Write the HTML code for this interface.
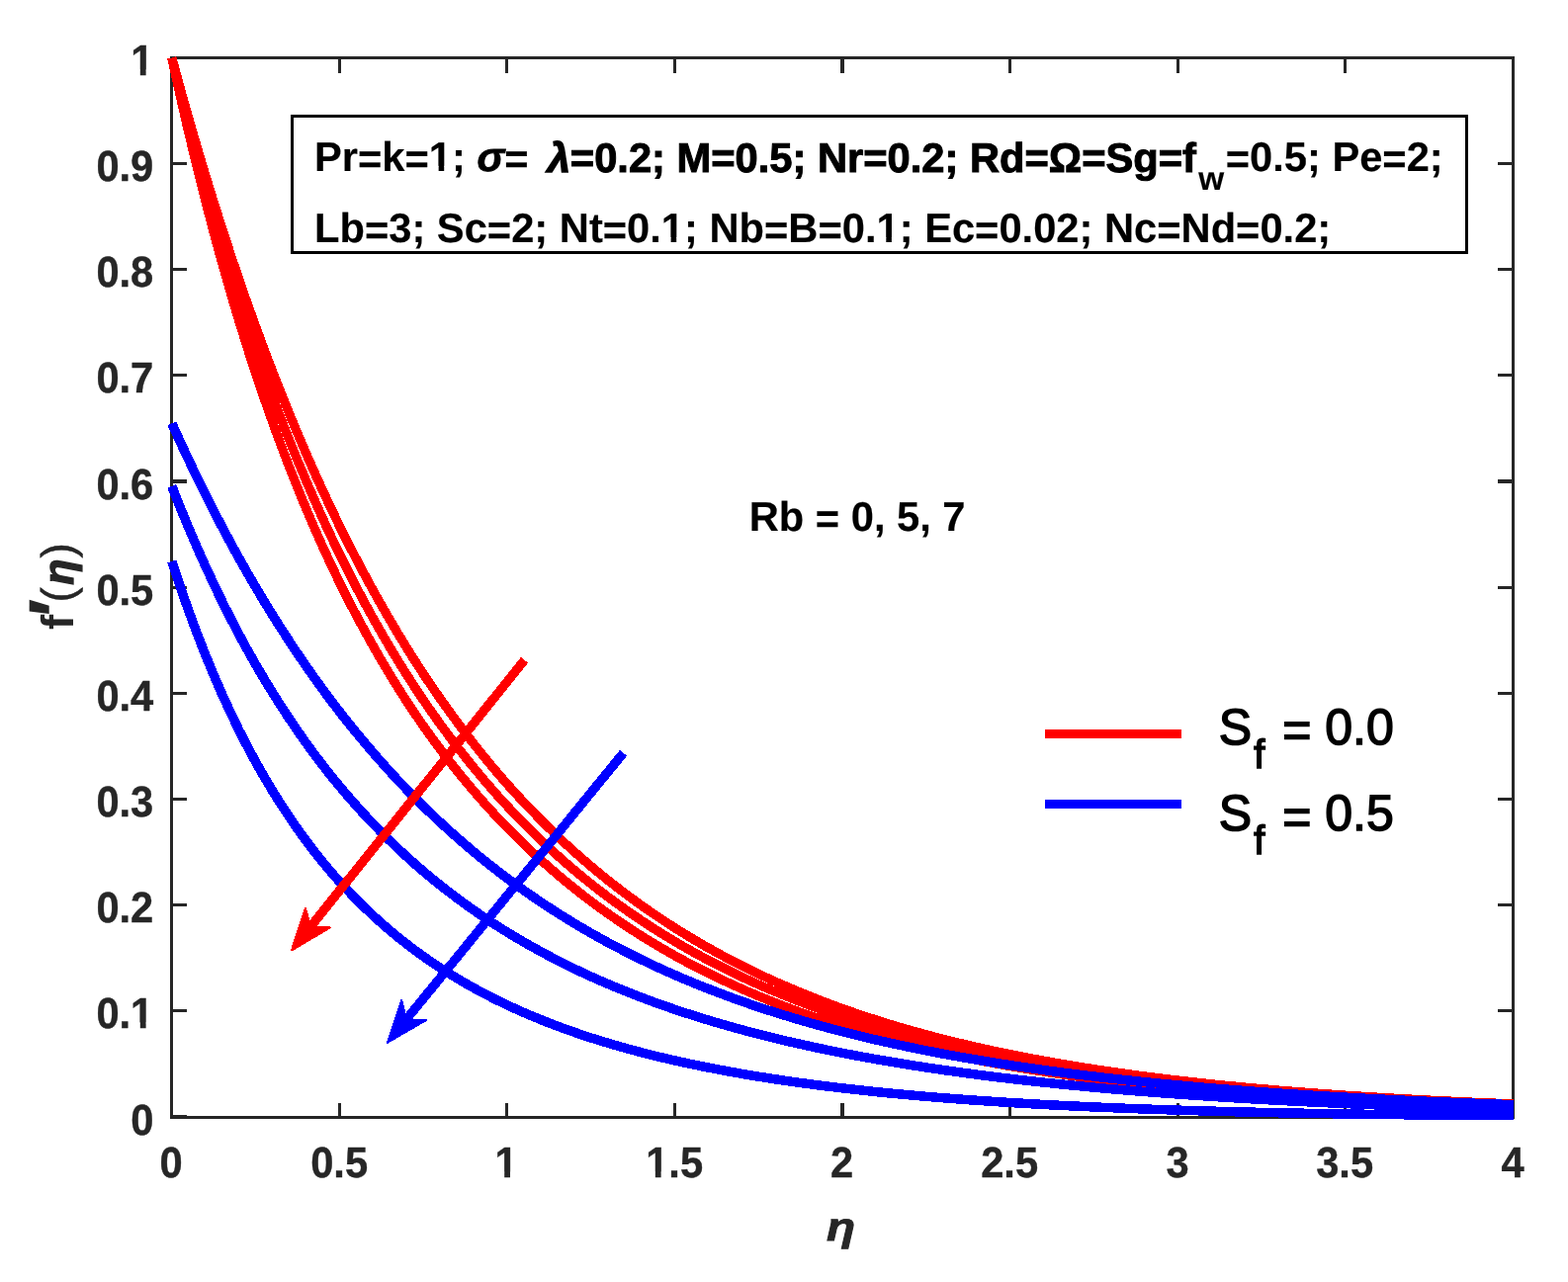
<!DOCTYPE html>
<html lang="en"><head><meta charset="utf-8"><title>f'(eta) profile</title>
<style>
html,body{margin:0;padding:0;background:#fff;}
body{width:1586px;height:1297px;overflow:hidden;position:relative;}
svg{position:absolute;left:0;top:0;display:block;}
text{font-family:"Liberation Sans",sans-serif;text-rendering:geometricPrecision;}
.tk{font-weight:bold;font-size:41.67px;fill:#262626;}
.an{font-weight:bold;font-size:41.67px;fill:#000;}
.lg{font-size:50px;fill:#000;}
.lb{font-weight:bold;font-size:45.83px;fill:#262626;}
.gi{font-style:italic;}
</style></head><body>
<svg width="1586" height="1297" viewBox="0 0 1586 1297">
<rect x="0" y="0" width="1586" height="1297" fill="#ffffff"/>

<g fill="#262626" shape-rendering="crispEdges">
<rect x="172" y="57" width="1360" height="3"/><rect x="172" y="1129" width="1360" height="3"/><rect x="172" y="57" width="3" height="1075"/><rect x="1529" y="57" width="3" height="1075"/>
<rect x="342" y="60" width="3" height="14"/><rect x="342" y="1116" width="3" height="13"/>
<rect x="511" y="60" width="3" height="14"/><rect x="511" y="1116" width="3" height="13"/>
<rect x="681" y="60" width="3" height="14"/><rect x="681" y="1116" width="3" height="13"/>
<rect x="850" y="60" width="4" height="14"/><rect x="850" y="1116" width="4" height="13"/>
<rect x="1020" y="60" width="3" height="14"/><rect x="1020" y="1116" width="3" height="13"/>
<rect x="1190" y="60" width="3" height="14"/><rect x="1190" y="1116" width="3" height="13"/>
<rect x="1359" y="60" width="3" height="14"/><rect x="1359" y="1116" width="3" height="13"/>
<rect x="175" y="1021" width="14" height="3"/><rect x="1515" y="1021" width="14" height="3"/>
<rect x="175" y="914" width="14" height="3"/><rect x="1515" y="914" width="14" height="3"/>
<rect x="175" y="807" width="14" height="3"/><rect x="1515" y="807" width="14" height="3"/>
<rect x="175" y="700" width="14" height="3"/><rect x="1515" y="700" width="14" height="3"/>
<rect x="175" y="593" width="14" height="3"/><rect x="1515" y="593" width="14" height="3"/>
<rect x="175" y="485" width="14" height="4"/><rect x="1515" y="485" width="14" height="4"/>
<rect x="175" y="378" width="14" height="3"/><rect x="1515" y="378" width="14" height="3"/>
<rect x="175" y="271" width="14" height="3"/><rect x="1515" y="271" width="14" height="3"/>
<rect x="175" y="164" width="14" height="3"/><rect x="1515" y="164" width="14" height="3"/>
<rect x="175" y="1128" width="14" height="1"/><rect x="1515" y="1128" width="14" height="1"/>
</g>
<g class="tk ft" stroke="#262626" stroke-width="0.4">
<text transform="translate(173.10,1191.00) scale(1,1.046)" text-anchor="middle">0</text>
<text transform="translate(343.10,1191.00) scale(1,1.046)" text-anchor="middle">0.5</text>
<text transform="translate(512.10,1191.00) scale(1,1.046)" text-anchor="middle">1</text>
<text transform="translate(682.10,1191.00) scale(1,1.046)" text-anchor="middle">1.5</text>
<text transform="translate(851.60,1191.00) scale(1,1.046)" text-anchor="middle">2</text>
<text transform="translate(1021.10,1191.00) scale(1,1.046)" text-anchor="middle">2.5</text>
<text transform="translate(1191.10,1191.00) scale(1,1.046)" text-anchor="middle">3</text>
<text transform="translate(1360.10,1191.00) scale(1,1.046)" text-anchor="middle">3.5</text>
<text transform="translate(1530.10,1191.00) scale(1,1.046)" text-anchor="middle">4</text>
<text transform="translate(155.30,1148.00) scale(1,1.046)" text-anchor="end">0</text>
<text transform="translate(155.30,1040.00) scale(1,1.046)" text-anchor="end">0.1</text>
<text transform="translate(155.30,933.00) scale(1,1.046)" text-anchor="end">0.2</text>
<text transform="translate(155.30,826.00) scale(1,1.046)" text-anchor="end">0.3</text>
<text transform="translate(155.30,719.00) scale(1,1.046)" text-anchor="end">0.4</text>
<text transform="translate(155.30,612.00) scale(1,1.046)" text-anchor="end">0.5</text>
<text transform="translate(155.30,504.50) scale(1,1.046)" text-anchor="end">0.6</text>
<text transform="translate(155.30,397.00) scale(1,1.046)" text-anchor="end">0.7</text>
<text transform="translate(155.30,290.00) scale(1,1.046)" text-anchor="end">0.8</text>
<text transform="translate(155.30,183.00) scale(1,1.046)" text-anchor="end">0.9</text>
<text transform="translate(155.30,76.00) scale(1,1.046)" text-anchor="end">1</text>
</g>
<g fill="none" stroke-linejoin="round" stroke-linecap="butt" shape-rendering="crispEdges">
<path stroke="#ff0000" stroke-width="9.3" d="M173.80,58.50 L182.28,89.53 L190.76,119.64 L199.24,148.86 L207.72,177.20 L216.20,204.70 L224.68,231.39 L233.16,257.29 L241.64,282.41 L250.12,306.80 L258.60,330.46 L267.08,353.43 L275.56,375.72 L284.04,397.35 L292.52,418.34 L301.00,438.72 L309.48,458.50 L317.96,477.69 L326.44,496.33 L334.92,514.42 L343.40,531.97 L351.88,549.02 L360.36,565.56 L368.84,581.62 L377.32,597.22 L385.80,612.36 L394.28,627.05 L402.76,641.32 L411.24,655.18 L419.72,668.63 L428.20,681.69 L436.68,694.37 L445.16,706.69 L453.64,718.64 L462.12,730.25 L470.60,741.53 L479.08,752.48 L487.56,763.11 L496.04,773.44 L504.52,783.46 L513.00,793.20 L521.48,802.66 L529.96,811.85 L538.44,820.77 L546.92,829.43 L555.40,837.85 L563.88,846.03 L572.36,853.97 L580.84,861.68 L589.32,869.17 L597.80,876.45 L606.28,883.52 L614.76,890.39 L623.24,897.06 L631.72,903.54 L640.20,909.83 L648.68,915.95 L657.16,921.89 L665.64,927.66 L674.12,933.27 L682.60,938.72 L691.08,944.02 L699.56,949.16 L708.04,954.16 L716.52,959.02 L725.00,963.74 L733.48,968.32 L741.96,972.78 L750.44,977.10 L758.92,981.31 L767.40,985.40 L775.88,989.37 L784.36,993.23 L792.84,996.98 L801.32,1000.63 L809.80,1004.17 L818.28,1007.62 L826.76,1010.96 L835.24,1014.22 L843.72,1017.38 L852.20,1020.45 L860.68,1023.44 L869.16,1026.34 L877.64,1029.16 L886.12,1031.90 L894.60,1034.57 L903.08,1037.16 L911.56,1039.68 L920.04,1042.12 L928.52,1044.50 L937.00,1046.82 L945.48,1049.07 L953.96,1051.25 L962.44,1053.38 L970.92,1055.44 L979.40,1057.45 L987.88,1059.40 L996.36,1061.30 L1004.84,1063.15 L1013.32,1064.94 L1021.80,1066.69 L1030.28,1068.38 L1038.76,1070.03 L1047.24,1071.63 L1055.72,1073.19 L1064.20,1074.71 L1072.68,1076.18 L1081.16,1077.62 L1089.64,1079.01 L1098.12,1080.37 L1106.60,1081.68 L1115.08,1082.97 L1123.56,1084.21 L1132.04,1085.42 L1140.52,1086.60 L1149.00,1087.75 L1157.48,1088.86 L1165.96,1089.95 L1174.44,1091.00 L1182.92,1092.03 L1191.40,1093.02 L1199.88,1094.00 L1208.36,1094.94 L1216.84,1095.86 L1225.32,1096.75 L1233.80,1097.62 L1242.28,1098.46 L1250.76,1099.28 L1259.24,1100.08 L1267.72,1100.86 L1276.20,1101.62 L1284.68,1102.35 L1293.16,1103.07 L1301.64,1103.76 L1310.12,1104.44 L1318.60,1105.10 L1327.08,1105.74 L1335.56,1106.37 L1344.04,1106.97 L1352.52,1107.56 L1361.00,1108.14 L1369.48,1108.70 L1377.96,1109.24 L1386.44,1109.77 L1394.92,1110.29 L1403.40,1110.79 L1411.88,1111.27 L1420.36,1111.75 L1428.84,1112.21 L1437.32,1112.66 L1445.80,1113.10 L1454.28,1113.52 L1462.76,1113.94 L1471.24,1114.34 L1479.72,1114.73 L1488.20,1115.12 L1496.68,1115.49 L1505.16,1115.85 L1513.64,1116.20 L1522.12,1116.55 L1530.60,1116.88"/>
<path stroke="#ff0000" stroke-width="9.3" d="M173.80,58.50 L182.28,93.10 L190.76,126.44 L199.24,158.57 L207.72,189.53 L216.20,219.38 L224.68,248.16 L233.16,275.92 L241.64,302.70 L250.12,328.54 L258.60,353.47 L267.08,377.54 L275.56,400.78 L284.04,423.21 L292.52,444.88 L301.00,465.82 L309.48,486.04 L317.96,505.58 L326.44,524.47 L334.92,542.73 L343.40,560.39 L351.88,577.46 L360.36,593.97 L368.84,609.94 L377.32,625.39 L385.80,640.34 L394.28,654.81 L402.76,668.81 L411.24,682.37 L419.72,695.50 L428.20,708.21 L436.68,720.51 L445.16,732.44 L453.64,743.99 L462.12,755.18 L470.60,766.02 L479.08,776.53 L487.56,786.71 L496.04,796.58 L504.52,806.15 L513.00,815.43 L521.48,824.43 L529.96,833.15 L538.44,841.61 L546.92,849.82 L555.40,857.78 L563.88,865.50 L572.36,873.00 L580.84,880.27 L589.32,887.32 L597.80,894.17 L606.28,900.81 L614.76,907.26 L623.24,913.52 L631.72,919.60 L640.20,925.50 L648.68,931.23 L657.16,936.80 L665.64,942.20 L674.12,947.45 L682.60,952.54 L691.08,957.49 L699.56,962.29 L708.04,966.96 L716.52,971.50 L725.00,975.90 L733.48,980.18 L741.96,984.34 L750.44,988.38 L758.92,992.30 L767.40,996.12 L775.88,999.82 L784.36,1003.42 L792.84,1006.92 L801.32,1010.32 L809.80,1013.63 L818.28,1016.84 L826.76,1019.96 L835.24,1022.99 L843.72,1025.94 L852.20,1028.81 L860.68,1031.59 L869.16,1034.30 L877.64,1036.93 L886.12,1039.49 L894.60,1041.97 L903.08,1044.39 L911.56,1046.74 L920.04,1049.02 L928.52,1051.24 L937.00,1053.40 L945.48,1055.50 L953.96,1057.54 L962.44,1059.52 L970.92,1061.44 L979.40,1063.32 L987.88,1065.14 L996.36,1066.91 L1004.84,1068.63 L1013.32,1070.30 L1021.80,1071.92 L1030.28,1073.50 L1038.76,1075.04 L1047.24,1076.53 L1055.72,1077.99 L1064.20,1079.40 L1072.68,1080.77 L1081.16,1082.10 L1089.64,1083.40 L1098.12,1084.66 L1106.60,1085.88 L1115.08,1087.07 L1123.56,1088.23 L1132.04,1089.35 L1140.52,1090.45 L1149.00,1091.51 L1157.48,1092.54 L1165.96,1093.54 L1174.44,1094.52 L1182.92,1095.47 L1191.40,1096.39 L1199.88,1097.28 L1208.36,1098.15 L1216.84,1099.00 L1225.32,1099.82 L1233.80,1100.62 L1242.28,1101.40 L1250.76,1102.15 L1259.24,1102.88 L1267.72,1103.60 L1276.20,1104.29 L1284.68,1104.96 L1293.16,1105.62 L1301.64,1106.25 L1310.12,1106.87 L1318.60,1107.47 L1327.08,1108.05 L1335.56,1108.62 L1344.04,1109.17 L1352.52,1109.70 L1361.00,1110.22 L1369.48,1110.73 L1377.96,1111.22 L1386.44,1111.69 L1394.92,1112.15 L1403.40,1112.60 L1411.88,1113.04 L1420.36,1113.47 L1428.84,1113.88 L1437.32,1114.28 L1445.80,1114.67 L1454.28,1115.04 L1462.76,1115.41 L1471.24,1115.77 L1479.72,1116.11 L1488.20,1116.45 L1496.68,1116.78 L1505.16,1117.09 L1513.64,1117.40 L1522.12,1117.70 L1530.60,1117.99"/>
<path stroke="#ff0000" stroke-width="9.3" d="M173.80,58.50 L182.28,97.04 L190.76,133.89 L199.24,169.14 L207.72,202.88 L216.20,235.19 L224.68,266.13 L233.16,295.78 L241.64,324.21 L250.12,351.47 L258.60,377.63 L267.08,402.73 L275.56,426.84 L284.04,450.00 L292.52,472.26 L301.00,493.65 L309.48,514.23 L317.96,534.02 L326.44,553.07 L334.92,571.41 L343.40,589.06 L351.88,606.08 L360.36,622.47 L368.84,638.27 L377.32,653.51 L385.80,668.21 L394.28,682.39 L402.76,696.08 L411.24,709.29 L419.72,722.05 L428.20,734.38 L436.68,746.29 L445.16,757.79 L453.64,768.92 L462.12,779.68 L470.60,790.08 L479.08,800.15 L487.56,809.89 L496.04,819.32 L504.52,828.44 L513.00,837.28 L521.48,845.83 L529.96,854.12 L538.44,862.15 L546.92,869.93 L555.40,877.47 L563.88,884.78 L572.36,891.87 L580.84,898.74 L589.32,905.40 L597.80,911.86 L606.28,918.13 L614.76,924.21 L623.24,930.11 L631.72,935.84 L640.20,941.39 L648.68,946.79 L657.16,952.02 L665.64,957.10 L674.12,962.04 L682.60,966.83 L691.08,971.48 L699.56,976.00 L708.04,980.38 L716.52,984.65 L725.00,988.78 L733.48,992.81 L741.96,996.71 L750.44,1000.50 L758.92,1004.19 L767.40,1007.77 L775.88,1011.25 L784.36,1014.63 L792.84,1017.91 L801.32,1021.10 L809.80,1024.20 L818.28,1027.21 L826.76,1030.14 L835.24,1032.98 L843.72,1035.74 L852.20,1038.43 L860.68,1041.03 L869.16,1043.57 L877.64,1046.03 L886.12,1048.42 L894.60,1050.74 L903.08,1053.00 L911.56,1055.19 L920.04,1057.32 L928.52,1059.39 L937.00,1061.40 L945.48,1063.35 L953.96,1065.25 L962.44,1067.09 L970.92,1068.88 L979.40,1070.61 L987.88,1072.30 L996.36,1073.94 L1004.84,1075.53 L1013.32,1077.07 L1021.80,1078.57 L1030.28,1080.02 L1038.76,1081.44 L1047.24,1082.81 L1055.72,1084.14 L1064.20,1085.43 L1072.68,1086.69 L1081.16,1087.90 L1089.64,1089.08 L1098.12,1090.23 L1106.60,1091.34 L1115.08,1092.42 L1123.56,1093.47 L1132.04,1094.48 L1140.52,1095.47 L1149.00,1096.42 L1157.48,1097.35 L1165.96,1098.24 L1174.44,1099.12 L1182.92,1099.96 L1191.40,1100.78 L1199.88,1101.57 L1208.36,1102.34 L1216.84,1103.09 L1225.32,1103.81 L1233.80,1104.51 L1242.28,1105.19 L1250.76,1105.85 L1259.24,1106.48 L1267.72,1107.10 L1276.20,1107.70 L1284.68,1108.28 L1293.16,1108.84 L1301.64,1109.38 L1310.12,1109.91 L1318.60,1110.42 L1327.08,1110.91 L1335.56,1111.39 L1344.04,1111.85 L1352.52,1112.30 L1361.00,1112.73 L1369.48,1113.15 L1377.96,1113.56 L1386.44,1113.95 L1394.92,1114.33 L1403.40,1114.69 L1411.88,1115.05 L1420.36,1115.39 L1428.84,1115.72 L1437.32,1116.04 L1445.80,1116.35 L1454.28,1116.65 L1462.76,1116.93 L1471.24,1117.21 L1479.72,1117.48 L1488.20,1117.74 L1496.68,1117.99 L1505.16,1118.23 L1513.64,1118.46 L1522.12,1118.69 L1530.60,1118.90"/>
<path stroke="#0000ff" stroke-width="9.5" d="M173.80,428.38 L182.28,447.07 L190.76,465.26 L199.24,482.95 L207.72,500.16 L216.20,516.90 L224.68,533.20 L233.16,549.05 L241.64,564.46 L250.12,579.47 L258.60,594.06 L267.08,608.26 L275.56,622.08 L284.04,635.52 L292.52,648.60 L301.00,661.32 L309.48,673.70 L317.96,685.74 L326.44,697.46 L334.92,708.86 L343.40,719.95 L351.88,730.74 L360.36,741.24 L368.84,751.46 L377.32,761.40 L385.80,771.07 L394.28,780.48 L402.76,789.64 L411.24,798.55 L419.72,807.22 L428.20,815.66 L436.68,823.87 L445.16,831.86 L453.64,839.63 L462.12,847.20 L470.60,854.56 L479.08,861.72 L487.56,868.69 L496.04,875.48 L504.52,882.08 L513.00,888.50 L521.48,894.76 L529.96,900.84 L538.44,906.77 L546.92,912.53 L555.40,918.14 L563.88,923.60 L572.36,928.92 L580.84,934.09 L589.32,939.12 L597.80,944.02 L606.28,948.80 L614.76,953.44 L623.24,957.96 L631.72,962.36 L640.20,966.64 L648.68,970.81 L657.16,974.87 L665.64,978.83 L674.12,982.67 L682.60,986.42 L691.08,990.07 L699.56,993.62 L708.04,997.08 L716.52,1000.44 L725.00,1003.72 L733.48,1006.91 L741.96,1010.02 L750.44,1013.04 L758.92,1015.99 L767.40,1018.86 L775.88,1021.66 L784.36,1024.38 L792.84,1027.03 L801.32,1029.61 L809.80,1032.12 L818.28,1034.57 L826.76,1036.96 L835.24,1039.28 L843.72,1041.54 L852.20,1043.74 L860.68,1045.89 L869.16,1047.98 L877.64,1050.02 L886.12,1052.00 L894.60,1053.94 L903.08,1055.82 L911.56,1057.65 L920.04,1059.44 L928.52,1061.18 L937.00,1062.88 L945.48,1064.53 L953.96,1066.14 L962.44,1067.71 L970.92,1069.24 L979.40,1070.74 L987.88,1072.19 L996.36,1073.60 L1004.84,1074.98 L1013.32,1076.33 L1021.80,1077.64 L1030.28,1078.91 L1038.76,1080.16 L1047.24,1081.37 L1055.72,1082.56 L1064.20,1083.71 L1072.68,1084.83 L1081.16,1085.93 L1089.64,1087.00 L1098.12,1088.04 L1106.60,1089.05 L1115.08,1090.04 L1123.56,1091.01 L1132.04,1091.95 L1140.52,1092.86 L1149.00,1093.76 L1157.48,1094.63 L1165.96,1095.48 L1174.44,1096.31 L1182.92,1097.12 L1191.40,1097.90 L1199.88,1098.67 L1208.36,1099.42 L1216.84,1100.15 L1225.32,1100.87 L1233.80,1101.56 L1242.28,1102.24 L1250.76,1102.90 L1259.24,1103.55 L1267.72,1104.18 L1276.20,1104.79 L1284.68,1105.39 L1293.16,1105.98 L1301.64,1106.55 L1310.12,1107.10 L1318.60,1107.65 L1327.08,1108.18 L1335.56,1108.69 L1344.04,1109.20 L1352.52,1109.69 L1361.00,1110.17 L1369.48,1110.64 L1377.96,1111.10 L1386.44,1111.54 L1394.92,1111.98 L1403.40,1112.40 L1411.88,1112.82 L1420.36,1113.22 L1428.84,1113.62 L1437.32,1114.00 L1445.80,1114.38 L1454.28,1114.74 L1462.76,1115.10 L1471.24,1115.45 L1479.72,1115.79 L1488.20,1116.13 L1496.68,1116.45 L1505.16,1116.77 L1513.64,1117.08 L1522.12,1117.38 L1530.60,1117.68"/>
<path stroke="#0000ff" stroke-width="9.5" d="M173.80,491.92 L182.28,513.35 L190.76,533.93 L199.24,553.70 L207.72,572.69 L216.20,590.95 L224.68,608.50 L233.16,625.38 L241.64,641.62 L250.12,657.24 L258.60,672.27 L267.08,686.74 L275.56,700.67 L284.04,714.09 L292.52,727.02 L301.00,739.48 L309.48,751.49 L317.96,763.07 L326.44,774.23 L334.92,785.00 L343.40,795.38 L351.88,805.41 L360.36,815.08 L368.84,824.42 L377.32,833.44 L385.80,842.15 L394.28,850.57 L402.76,858.70 L411.24,866.56 L419.72,874.15 L428.20,881.50 L436.68,888.60 L445.16,895.48 L453.64,902.12 L462.12,908.56 L470.60,914.78 L479.08,920.81 L487.56,926.64 L496.04,932.30 L504.52,937.77 L513.00,943.07 L521.48,948.21 L529.96,953.19 L538.44,958.02 L546.92,962.70 L555.40,967.23 L563.88,971.63 L572.36,975.90 L580.84,980.04 L589.32,984.06 L597.80,987.96 L606.28,991.74 L614.76,995.41 L623.24,998.98 L631.72,1002.44 L640.20,1005.81 L648.68,1009.07 L657.16,1012.25 L665.64,1015.33 L674.12,1018.33 L682.60,1021.24 L691.08,1024.07 L699.56,1026.82 L708.04,1029.49 L716.52,1032.09 L725.00,1034.62 L733.48,1037.08 L741.96,1039.48 L750.44,1041.81 L758.92,1044.07 L767.40,1046.27 L775.88,1048.42 L784.36,1050.51 L792.84,1052.54 L801.32,1054.52 L809.80,1056.44 L818.28,1058.32 L826.76,1060.14 L835.24,1061.92 L843.72,1063.65 L852.20,1065.34 L860.68,1066.98 L869.16,1068.58 L877.64,1070.14 L886.12,1071.65 L894.60,1073.13 L903.08,1074.58 L911.56,1075.98 L920.04,1077.35 L928.52,1078.68 L937.00,1079.99 L945.48,1081.25 L953.96,1082.49 L962.44,1083.69 L970.92,1084.87 L979.40,1086.01 L987.88,1087.13 L996.36,1088.22 L1004.84,1089.28 L1013.32,1090.32 L1021.80,1091.32 L1030.28,1092.31 L1038.76,1093.27 L1047.24,1094.20 L1055.72,1095.12 L1064.20,1096.01 L1072.68,1096.88 L1081.16,1097.72 L1089.64,1098.55 L1098.12,1099.36 L1106.60,1100.14 L1115.08,1100.91 L1123.56,1101.66 L1132.04,1102.39 L1140.52,1103.10 L1149.00,1103.79 L1157.48,1104.47 L1165.96,1105.13 L1174.44,1105.77 L1182.92,1106.40 L1191.40,1107.01 L1199.88,1107.61 L1208.36,1108.20 L1216.84,1108.76 L1225.32,1109.32 L1233.80,1109.86 L1242.28,1110.39 L1250.76,1110.90 L1259.24,1111.41 L1267.72,1111.90 L1276.20,1112.37 L1284.68,1112.84 L1293.16,1113.29 L1301.64,1113.74 L1310.12,1114.17 L1318.60,1114.59 L1327.08,1115.00 L1335.56,1115.40 L1344.04,1115.79 L1352.52,1116.17 L1361.00,1116.54 L1369.48,1116.91 L1377.96,1117.26 L1386.44,1117.60 L1394.92,1117.94 L1403.40,1118.27 L1411.88,1118.59 L1420.36,1118.90 L1428.84,1119.20 L1437.32,1119.49 L1445.80,1119.78 L1454.28,1120.06 L1462.76,1120.34 L1471.24,1120.60 L1479.72,1120.86 L1488.20,1121.11 L1496.68,1121.36 L1505.16,1121.60 L1513.64,1121.83 L1522.12,1122.06 L1530.60,1122.28"/>
<path stroke="#0000ff" stroke-width="9.5" d="M173.80,568.00 L182.28,593.62 L190.76,617.84 L199.24,640.76 L207.72,662.45 L216.20,683.00 L224.68,702.47 L233.16,720.92 L241.64,738.43 L250.12,755.04 L258.60,770.82 L267.08,785.80 L275.56,800.04 L284.04,813.59 L292.52,826.47 L301.00,838.73 L309.48,850.40 L317.96,861.53 L326.44,872.13 L334.92,882.23 L343.40,891.87 L351.88,901.07 L360.36,909.86 L368.84,918.25 L377.32,926.26 L385.80,933.92 L394.28,941.25 L402.76,948.26 L411.24,954.97 L419.72,961.39 L428.20,967.54 L436.68,973.44 L445.16,979.08 L453.64,984.50 L462.12,989.70 L470.60,994.68 L479.08,999.47 L487.56,1004.06 L496.04,1008.47 L504.52,1012.71 L513.00,1016.78 L521.48,1020.70 L529.96,1024.47 L538.44,1028.09 L546.92,1031.58 L555.40,1034.93 L563.88,1038.17 L572.36,1041.28 L580.84,1044.27 L589.32,1047.16 L597.80,1049.95 L606.28,1052.63 L614.76,1055.22 L623.24,1057.72 L631.72,1060.13 L640.20,1062.45 L648.68,1064.69 L657.16,1066.86 L665.64,1068.95 L674.12,1070.97 L682.60,1072.92 L691.08,1074.81 L699.56,1076.63 L708.04,1078.39 L716.52,1080.09 L725.00,1081.73 L733.48,1083.33 L741.96,1084.86 L750.44,1086.35 L758.92,1087.79 L767.40,1089.18 L775.88,1090.53 L784.36,1091.84 L792.84,1093.10 L801.32,1094.32 L809.80,1095.50 L818.28,1096.65 L826.76,1097.76 L835.24,1098.83 L843.72,1099.87 L852.20,1100.87 L860.68,1101.85 L869.16,1102.79 L877.64,1103.70 L886.12,1104.59 L894.60,1105.45 L903.08,1106.28 L911.56,1107.08 L920.04,1107.86 L928.52,1108.61 L937.00,1109.34 L945.48,1110.05 L953.96,1110.74 L962.44,1111.40 L970.92,1112.04 L979.40,1112.67 L987.88,1113.27 L996.36,1113.85 L1004.84,1114.42 L1013.32,1114.97 L1021.80,1115.50 L1030.28,1116.01 L1038.76,1116.51 L1047.24,1116.99 L1055.72,1117.45 L1064.20,1117.90 L1072.68,1118.34 L1081.16,1118.76 L1089.64,1119.17 L1098.12,1119.57 L1106.60,1119.95 L1115.08,1120.32 L1123.56,1120.67 L1132.04,1121.02 L1140.52,1121.35 L1149.00,1121.68 L1157.48,1121.99 L1165.96,1122.29 L1174.44,1122.58 L1182.92,1122.87 L1191.40,1123.14 L1199.88,1123.40 L1208.36,1123.66 L1216.84,1123.90 L1225.32,1124.14 L1233.80,1124.37 L1242.28,1124.59 L1250.76,1124.80 L1259.24,1125.01 L1267.72,1125.20 L1276.20,1125.40 L1284.68,1125.58 L1293.16,1125.76 L1301.64,1125.93 L1310.12,1126.09 L1318.60,1126.25 L1327.08,1126.41 L1335.56,1126.56 L1344.04,1126.70 L1352.52,1126.83 L1361.00,1126.97 L1369.48,1127.09 L1377.96,1127.22 L1386.44,1127.33 L1394.92,1127.45 L1403.40,1127.55 L1411.88,1127.66 L1420.36,1127.76 L1428.84,1127.86 L1437.32,1127.95 L1445.80,1128.04 L1454.28,1128.12 L1462.76,1128.21 L1471.24,1128.29 L1479.72,1128.36 L1488.20,1128.43 L1496.68,1128.50 L1505.16,1128.57 L1513.64,1128.63 L1522.12,1128.70 L1530.60,1128.76"/>
</g>
<g shape-rendering="crispEdges"><line x1="530.50" y1="667.80" x2="314.54" y2="937.05" stroke="#ff0000" stroke-width="9.30"/><polygon points="294.95,961.46 308.94,918.46 313.91,937.83 333.90,938.48" fill="#ff0000" stroke="#ff0000" stroke-width="2.00" stroke-linejoin="round"/><line x1="630.50" y1="761.80" x2="411.72" y2="1030.50" stroke="#0000ff" stroke-width="9.30"/><polygon points="391.96,1054.77 406.26,1011.87 411.09,1031.27 431.07,1032.07" fill="#0000ff" stroke="#0000ff" stroke-width="2.00" stroke-linejoin="round"/></g>
<rect x="295.5" y="117.5" width="1188" height="138" fill="#ffffff" stroke="#000" stroke-width="3" shape-rendering="crispEdges"/>
<g class="an ft" stroke="#000" stroke-width="0.15">
<text x="318" y="173.1" dx="0 0 0 0 0 0 0 0 0 0 0 7.6 0 0 0 0 0 0 0 0 0 0 0 0 0 0 0 0 0 0 0 0 0 0 0 0 0 0 0 0 0 0 2.3 1.5" dy="0 0 1.9 -1.9 1.9 -1.9 0 0 0 1.9 -1.9 0.5 0 0 0 0 0 0 0 0 0 0 0 0 0 0 0 0 0 0 0 0 0 0 0 0 0 0 0 0 0 0 18.5 -17.1 -1.9 0 0 0 0 0 0 1.9 -1.9">Pr=k=1; <tspan class="gi" stroke-width="0.9">σ</tspan>= <tspan class="gi" stroke-width="1.4">λ</tspan><tspan stroke-width="1">=0.2; M=0.5; Nr=0.2; Rd=Ω=Sg=f</tspan><tspan font-size="33.3">w</tspan>=0.5; Pe=2;</text>
<text x="318" y="245.2" dy="0 0 1.9 -1.9 0 0 0 0 1.9 -1.9 0 0 0 0 1.9 -1.9 0 0 0 0 0 0 1.9 -1.9 1.9 -1.9 0 0 0 0 0 0 1.9 -1.9 0 0 0 0 0 0 0 1.9 -1.9 0 1.9 -1.9">Lb=3; Sc=2; Nt=0.1; Nb=B=0.1; Ec=0.02; Nc=Nd=0.2;</text>
</g>
<text class="an" x="757.7" y="536.8" dy="0 0 0 1.9 -1.9" stroke="#000" stroke-width="0.15">Rb = 0, 5, 7</text>
<g stroke-width="9.4" shape-rendering="crispEdges"><line x1="1057" y1="742.3" x2="1195" y2="742.3" stroke="#ff0000"/><line x1="1057" y1="813.4" x2="1195" y2="813.4" stroke="#0000ff"/></g>
<g class="lg" stroke="#000" stroke-width="1.5" stroke-linejoin="miter">
<text transform="translate(1232.8,752.5) scale(1,1.025)" dx="0 2.2 4.5 -0.6 0 -0.2" dy="0 23.41 -23.41 3.71 -3.71">S<tspan font-size="40">f</tspan> = 0.0</text>
<text transform="translate(1232.8,840.1) scale(1,1.025)" dx="0 2.2 4.5 -0.6 0 -0.2" dy="0 23.41 -23.41 3.71 -3.71">S<tspan font-size="40">f</tspan> = 0.5</text>
</g>
<text class="lb gi" transform="translate(850.6,1254.6) scale(1.04,0.88)" text-anchor="middle" stroke="#262626" stroke-width="1">η</text>
<text class="lb" transform="translate(74,637) rotate(-90)" x="0 8.4 27.6 45.2 72.6" y="0 10 0 0 0">f<tspan class="gi" font-size="79">′</tspan><tspan font-weight="normal" stroke="#262626" stroke-width="0.5">(</tspan><tspan class="gi" font-size="43" stroke="#262626" stroke-width="1.3">η</tspan><tspan font-weight="normal" stroke="#262626" stroke-width="0.5">)</tspan></text>
<g id="feet" fill="#ffffff"><rect x="501.33" y="1185.44" width="8.86" height="6.97"/><rect x="516.01" y="1185.44" width="9.13" height="6.97"/><rect x="653.95" y="1185.44" width="8.86" height="6.97"/><rect x="668.63" y="1185.44" width="9.13" height="6.97"/><rect x="132.93" y="1034.44" width="8.87" height="6.97"/><rect x="147.61" y="1034.44" width="9.13" height="6.97"/><rect x="132.94" y="70.44" width="8.86" height="6.97"/><rect x="147.62" y="70.44" width="9.13" height="6.97"/><rect x="434.66" y="167.87" width="8.99" height="6.50"/><rect x="449.21" y="167.87" width="9.25" height="6.50"/><rect x="669.64" y="239.97" width="8.99" height="6.50"/><rect x="684.19" y="239.97" width="9.25" height="6.50"/><rect x="887.31" y="239.97" width="8.99" height="6.50"/><rect x="901.87" y="239.97" width="9.25" height="6.50"/></g>
</svg>
</body></html>
